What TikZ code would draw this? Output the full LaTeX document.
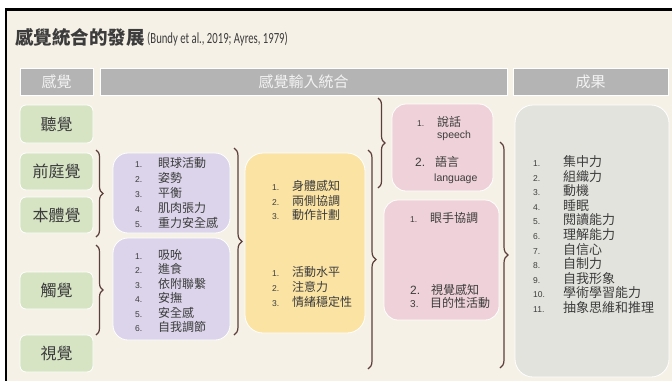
\documentclass[tikz,border=0pt]{standalone}
\usepackage{fontspec}
\setmainfont{Liberation Sans}
\newfontfamily\cjk{Noto Sans CJK TC}
\newfontfamily\calfont{Carlito}
\usetikzlibrary{decorations.pathreplacing}
\definecolor{bg}{HTML}{F5F1E6}
\definecolor{hdr}{HTML}{B4B4B4}
\definecolor{hdrtxt}{HTML}{F2F2F2}
\definecolor{grn}{HTML}{D6E4C4}
\definecolor{pur}{HTML}{DCD4EA}
\definecolor{yel}{HTML}{FBE3A4}
\definecolor{pnk}{HTML}{EFD2D9}
\definecolor{gry}{HTML}{E3E3DE}
\definecolor{brc}{HTML}{5C3E3A}
\definecolor{txt}{HTML}{3C3C3C}
\tikzset{
  hbar/.style={fill=hdr, draw=white, line width=0.6pt, inner sep=0pt, text=hdrtxt, font=\cjk\fontsize{15}{17}\selectfont},
  sense/.style={fill=grn, draw=white, line width=0.8pt, rounded corners=6pt, inner sep=0pt, text=txt, font=\cjk\fontsize{16}{18}\selectfont},
  panel/.style={draw=white, line width=0.8pt, inner sep=0pt},
  num/.style={anchor=base west, inner sep=0pt, text=txt, font=\fontsize{8.5}{10}\selectfont},
  bignum/.style={anchor=base west, inner sep=0pt, text=txt, font=\fontsize{12}{14}\selectfont},
  item/.style={anchor=base west, inner sep=0pt, text=txt, font=\cjk\fontsize{12}{14}\selectfont},
  gitem/.style={anchor=base west, inner sep=0pt, text=txt, font=\cjk\fontsize{13}{15}\selectfont},
  eng/.style={anchor=base west, inner sep=0pt, text=txt, font=\fontsize{10.5}{12}\selectfont},
  curly/.style={draw=brc, line width=1.2pt, decorate, decoration={brace, amplitude=#1}},
}
\begin{document}
\begin{tikzpicture}[x=1pt,y=-1pt]
\useasboundingbox (0,0) rectangle (672,381);
\fill[white] (0,0) rectangle (672,381);
\fill[bg] (7,11) rectangle (672,381);
\fill[black] (5,8) rectangle (672,11);
\fill[black] (5,8) rectangle (7,381);

% title
\node[anchor=base west, inner sep=0pt, text=txt, font=\cjk\bfseries\fontsize{18.5}{20}\selectfont] (title) at (15,44) {感覺統合的發展};
\node[anchor=base west, inner sep=0pt, text=txt, font=\calfont\fontsize{15.5}{17}\selectfont] (cite) at (147,43.5) {\scalebox{0.69}[1]{(Bundy et al., 2019; Ayres, 1979)}};

% header bars
\node[hbar, minimum width=73pt, minimum height=27pt] (h1) at (56.5,81.5) {感覺};
\node[hbar, minimum width=407pt, minimum height=27pt] (h2) at (303.5,81.5) {感覺輸入統合};
\node[hbar, minimum width=155pt, minimum height=27pt] (h3) at (590.5,81.5) {成果};

% sense boxes
\node[sense, minimum width=73pt, minimum height=38pt] (ting) at (56.5,124) {聽覺};
\node[sense, minimum width=73pt, minimum height=37pt] (vest) at (56.5,171.5) {前庭覺};
\node[sense, minimum width=73pt, minimum height=36pt] (prop) at (56.5,215) {本體覺};
\node[sense, minimum width=73pt, minimum height=37pt] (touch) at (56.5,290.5) {觸覺};
\node[sense, minimum width=73pt, minimum height=37pt] (vis) at (56.5,353.5) {視覺};

% panels
\node[panel, fill=pur, rounded corners=15pt, minimum width=117pt, minimum height=80pt] (pur1) at (171.5,193) {};
\node[panel, fill=pur, rounded corners=15pt, minimum width=117pt, minimum height=102pt] (pur2) at (171.5,289) {};
\node[panel, fill=yel, rounded corners=18pt, minimum width=120pt, minimum height=180pt] (yel) at (305,243) {};
\node[panel, fill=pnk, rounded corners=14pt, minimum width=101pt, minimum height=87pt] (pnk1) at (442.5,147.5) {};
\node[panel, fill=pnk, rounded corners=14pt, minimum width=115pt, minimum height=120pt] (pnk2) at (441.5,260) {};
\node[panel, fill=gry, rounded corners=18pt, minimum width=154pt, minimum height=272pt] (res) at (592,241) {};

% purple lists
\foreach \t [count=\i] in {眼球活動,姿勢,平衡,肌肉張力,重力安全感} {
  \node[num] (pa\i) at (135,{167.5+15*(\i-1)}) {\i.};
  \node[item] (pb\i) at (158,{167.5+15*(\i-1)}) {\t};
}
\foreach \t [count=\i] in {吸吮,進食,依附聯繫,安撫,安全感,自我調節} {
  \node[num] (qa\i) at (135,{259.5+14.4*(\i-1)}) {\i.};
  \node[item] (qb\i) at (158,{259.5+14.4*(\i-1)}) {\t};
}

% yellow lists
\foreach \t [count=\i] in {身體感知,兩側協調,動作計劃} {
  \node[num] (ya\i) at (272,{190.5+14.5*(\i-1)}) {\i.};
  \node[item] (yb\i) at (292,{190.5+14.5*(\i-1)}) {\t};
}
\foreach \t [count=\i] in {活動水平,注意力,情緒穩定性} {
  \node[num] (za\i) at (272,{276.5+15*(\i-1)}) {\i.};
  \node[item] (zb\i) at (292,{276.5+15*(\i-1)}) {\t};
}

% pink 1
\node[num] (k1n) at (417,126.5) {1.};
\node[item] (k1t) at (437,126.5) {說話};
\node[eng] (k1e) at (437,138) {speech};
\node[bignum] (k2n) at (415,166.5) {2.};
\node[item] (k2t) at (435,166.5) {語言};
\node[eng] (k2e) at (434,181) {language};

% pink 2
\node[num] (m1n) at (410,222.5) {1.};
\node[item] (m1t) at (430,222.5) {眼手協調};
\node[bignum] (m2n) at (410,294.5) {2.};
\node[item] (m2t) at (431,294.5) {視覺感知};
\node[num, font=\fontsize{10}{12}\selectfont] (m3n) at (410,307.5) {3.};
\node[item] (m3t) at (430,307.5) {目的性活動};

% results
\foreach \t [count=\i] in {集中力,組織力,動機,睡眠,閱讀能力,理解能力,自信心,自制力,自我形象,學術學習能力,抽象思維和推理} {
  \node[num] (ra\i) at (533,{166.5+14.6*(\i-1)}) {\i.};
  \node[gitem] (rb\i) at (563,{166.5+14.6*(\i-1)}) {\t};
}

% braces
\coordinate (b1a) at (96,150);  \coordinate (b1b) at (96,237);
\coordinate (b2a) at (96,245);  \coordinate (b2b) at (96,335);
\coordinate (b3a) at (234,148); \coordinate (b3b) at (234,335);
\coordinate (b4a) at (368,150); \coordinate (b4b) at (368,369);
\coordinate (b5a) at (378,98);  \coordinate (b5b) at (378,188);
\coordinate (b6a) at (500,142); \coordinate (b6b) at (500,368);
\draw[curly=7pt] (b1a) -- (b1b);
\draw[curly=7pt] (b2a) -- (b2b);
\draw[curly=8pt] (b3a) -- (b3b);
\draw[curly=8pt] (b4a) -- (b4b);
\draw[curly=7pt] (b5a) -- (b5b);
\draw[curly=8pt] (b6a) -- (b6b);
\end{tikzpicture}
\end{document}
